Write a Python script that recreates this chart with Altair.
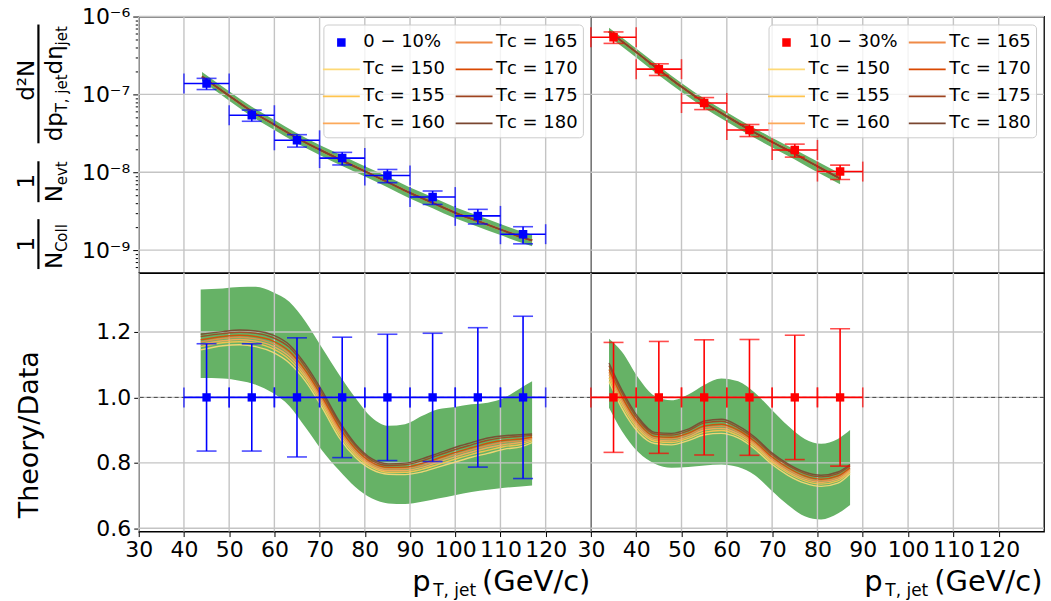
import altair as alt
import pandas as pd

FONT = "DejaVu Sans"

# ---------------- data ----------------
# 0-10 % centrality
x_L = [45, 55, 65, 75, 85, 95, 105, 115]
y_L = [1.38e-7, 5.4e-8, 2.57e-8, 1.52e-8, 9.1e-9, 4.8e-9, 2.75e-9, 1.6e-9]
relerr_L = [0.164, 0.164, 0.182, 0.184, 0.193, 0.196, 0.213, 0.248]
ratio_pts_L = [1.0, 1.0, 1.0, 1.0, 1.0, 1.0, 1.0, 1.0]

# 10-30 % centrality
x_R = [35, 45, 55, 65, 75, 85]
y_R = [5.43e-7, 2.11e-7, 7.74e-8, 3.49e-8, 1.93e-8, 1.02e-8]
relerr_R = [0.168, 0.171, 0.176, 0.177, 0.190, 0.210]
ratio_pts_R = [1.0, 1.0, 1.0, 1.0, 1.0, 1.0]

x_halfwidth = 5

# theory spectrum (top panels)
x_thL = [44, 50, 55, 60, 65, 70, 75, 80, 85, 90, 95, 100, 105, 110, 115, 117]
thL = [1.70e-7, 9.6e-8, 6.05e-8, 4.08e-8, 2.75e-8, 1.95e-8, 1.41e-8, 1.03e-8,
       7.5e-9, 5.43e-9, 4.05e-9, 3.01e-9, 2.36e-9, 1.84e-9, 1.44e-9, 1.33e-9]
bandL_hi = [1.94e-7, 1.10e-7, 6.96e-8, 4.69e-8, 3.16e-8, 2.24e-8, 1.64e-8, 1.19e-8,
            8.8e-9, 6.35e-9, 4.78e-9, 3.55e-9, 2.78e-9, 2.17e-9, 1.71e-9, 1.58e-9]
bandL_lo = [1.50e-7, 8.3e-8, 5.2e-8, 3.5e-8, 2.36e-8, 1.67e-8, 1.20e-8, 8.8e-9,
            6.4e-9, 4.6e-9, 3.45e-9, 2.56e-9, 2.0e-9, 1.56e-9, 1.22e-9, 1.12e-9]

x_thR = [34, 40, 45, 50, 55, 60, 65, 70, 75, 80, 85]
thR = [6.42e-7, 3.49e-7, 2.07e-7, 1.25e-7, 7.88e-8, 5.22e-8, 3.52e-8, 2.45e-8,
       1.72e-8, 1.19e-8, 8.3e-9]
bandR_hi = [7.2e-7, 3.9e-7, 2.32e-7, 1.4e-7, 8.85e-8, 5.9e-8, 3.98e-8, 2.78e-8,
            1.96e-8, 1.37e-8, 9.6e-9]
bandR_lo = [5.5e-7, 2.98e-7, 1.76e-7, 1.07e-7, 6.7e-8, 4.45e-8, 3.0e-8, 2.08e-8,
            1.46e-8, 1.0e-8, 7.0e-9]

# theory / data (bottom panels)
rxL = [43.7, 48.6, 52.3, 55.9, 59.6, 63.3, 66.9, 70.6, 74.3, 77.9, 81.6, 85.2,
       88.9, 92.6, 96.2, 99.9, 103.6, 107.2, 110.9, 114.5, 117.0]
rbandL_hi = [1.330, 1.333, 1.337, 1.338, 1.322, 1.292, 1.231, 1.150, 1.070, 0.999, 0.938,
             0.913, 0.918, 0.943, 0.964, 0.971, 0.979, 0.984, 0.999, 1.029, 1.049]
rbandL_lo = [1.059, 1.058, 1.051, 1.039, 1.014, 0.974, 0.908, 0.837, 0.777, 0.726, 0.691,
             0.676, 0.674, 0.681, 0.691, 0.701, 0.711, 0.718, 0.724, 0.728, 0.731]
ratioL = {
    150: [1.145, 1.158, 1.161, 1.155, 1.138, 1.105, 1.049, 0.968, 0.878, 0.817, 0.779,
          0.765, 0.764, 0.772, 0.787, 0.802, 0.817, 0.829, 0.842, 0.849, 0.862],
    155: [1.155, 1.167, 1.170, 1.165, 1.149, 1.116, 1.059, 0.978, 0.888, 0.825, 0.786,
          0.771, 0.771, 0.780, 0.795, 0.811, 0.826, 0.838, 0.850, 0.856, 0.867],
    160: [1.162, 1.173, 1.177, 1.172, 1.157, 1.125, 1.067, 0.986, 0.896, 0.831, 0.791,
          0.776, 0.776, 0.786, 0.802, 0.818, 0.833, 0.846, 0.856, 0.862, 0.871],
    165: [1.169, 1.180, 1.184, 1.179, 1.165, 1.133, 1.075, 0.994, 0.903, 0.838, 0.796,
          0.781, 0.782, 0.792, 0.808, 0.825, 0.840, 0.853, 0.863, 0.868, 0.875],
    170: [1.176, 1.186, 1.190, 1.186, 1.173, 1.141, 1.082, 1.001, 0.911, 0.844, 0.801,
          0.786, 0.787, 0.798, 0.814, 0.831, 0.846, 0.860, 0.869, 0.873, 0.879],
    175: [1.186, 1.195, 1.199, 1.196, 1.183, 1.153, 1.092, 1.011, 0.921, 0.852, 0.807,
          0.792, 0.794, 0.806, 0.823, 0.840, 0.855, 0.869, 0.877, 0.881, 0.884],
    180: [1.193, 1.201, 1.206, 1.203, 1.191, 1.161, 1.100, 1.019, 0.928, 0.858, 0.812,
          0.797, 0.799, 0.812, 0.829, 0.847, 0.862, 0.876, 0.883, 0.886, 0.888],
}

rxR = [34.0, 36.8, 40.5, 44.1, 47.8, 51.5, 55.1, 58.8, 62.5, 66.2, 69.8, 73.5,
       77.2, 80.8, 84.5, 87.2]
rbandR_hi = [1.179, 1.140, 1.059, 1.004, 0.991, 1.009, 1.039, 1.058, 1.049, 1.014, 0.964,
             0.913, 0.873, 0.858, 0.873, 0.900]
rbandR_lo = [0.968, 0.898, 0.832, 0.797, 0.785, 0.787, 0.792, 0.795, 0.787, 0.762, 0.716,
             0.671, 0.637, 0.627, 0.645, 0.671]
ratioR = {
    150: [1.049, 0.968, 0.893, 0.859, 0.855, 0.868, 0.886, 0.890, 0.876, 0.842, 0.797,
          0.762, 0.738, 0.728, 0.738, 0.767],
    155: [1.060, 0.979, 0.902, 0.866, 0.862, 0.875, 0.894, 0.899, 0.883, 0.849, 0.804,
          0.769, 0.745, 0.735, 0.745, 0.773],
    160: [1.069, 0.988, 0.909, 0.871, 0.867, 0.880, 0.901, 0.905, 0.889, 0.855, 0.809,
          0.774, 0.750, 0.740, 0.750, 0.777],
    165: [1.077, 0.996, 0.916, 0.876, 0.873, 0.886, 0.907, 0.912, 0.895, 0.860, 0.815,
          0.780, 0.755, 0.745, 0.755, 0.781],
    170: [1.085, 1.004, 0.922, 0.881, 0.878, 0.891, 0.913, 0.918, 0.900, 0.865, 0.820,
          0.785, 0.760, 0.750, 0.760, 0.785],
    175: [1.097, 1.016, 0.931, 0.888, 0.885, 0.898, 0.922, 0.927, 0.907, 0.873, 0.827,
          0.792, 0.767, 0.757, 0.767, 0.791],
    180: [1.105, 1.024, 0.938, 0.893, 0.890, 0.903, 0.928, 0.933, 0.913, 0.878, 0.832,
          0.797, 0.772, 0.762, 0.772, 0.795],
}

T_values = [150, 155, 160, 165, 170, 175, 180]
T_colors = ["#fed976", "#fec44f", "#fca95a", "#ef8a47", "#d94801", "#9e4420", "#7a4630"]
T_labels = [f"Tᴄ = {t}" for t in T_values]

label_L = "0 − 10%"
label_R = "10 − 30%"

x_ticks = [30, 40, 50, 60, 70, 80, 90, 100, 110, 120]
top_decades = [1e-9, 1e-8, 1e-7, 1e-6]
top_tick_labels = ["10⁻⁹", "10⁻⁸", "10⁻⁷", "10⁻⁶"]
bot_ticks = [0.6, 0.8, 1.0, 1.2]

# ---------------- layout constants ----------------
W_L, W_R = 453, 454
H_T, H_B = 257, 259
X_DOM = [30, 130]
Y_TOP_DOM = [5.07e-10, 1e-6]
Y_BOT_DOM = [0.59, 1.38]
GREEN = "#66b266"
GRID = "#c4c4c4"
SYM = 576  # legend symbol box 24 px
SQUARE_PATH = "M-0.28,-0.28L0.28,-0.28L0.28,0.28L-0.28,0.28Z"
LINE_PATH = "M-1.54,0L1.54,0"

minor = [m * d for d in [1e-10, 1e-9, 1e-8, 1e-7] for m in range(1, 10)]
top_vals = [v for v in minor if Y_TOP_DOM[0] <= v <= Y_TOP_DOM[1]] + [1e-6]
major_test = "indexof([1e-9, 1e-8, 1e-7, 1e-6], datum.value) >= 0"
label_expr = " : ".join(
    f"datum.value == {v!r} ? '{s}'" for v, s in zip(top_decades, top_tick_labels)
) + " : ''"

xscale = alt.Scale(domain=X_DOM, nice=False, zero=False)
yscale_top = alt.Scale(type="log", domain=Y_TOP_DOM, nice=False)
yscale_bot = alt.Scale(domain=Y_BOT_DOM, nice=False, zero=False)

x_axis_bottom = alt.Axis(values=x_ticks, title=None, grid=False, domain=False,
                         labelFont=FONT, labelFontSize=22, labelColor="black",
                         labelFlush=False, labelOverlap=False,
                         tickColor="black", tickSize=5, labelPadding=3)
y_axis_top_left = alt.Axis(values=top_vals, title=None, grid=False, domain=False,
                           labelExpr=label_expr, labelFont=FONT, labelFontSize=22,
                           labelColor="black", tickColor="black", labelPadding=3,
                           labelFlush=False, labelOverlap=False,
                           tickSize={"condition": {"test": major_test, "value": 6}, "value": 3.5})
y_axis_bot_left = alt.Axis(values=bot_ticks, format=".1f", title=None, grid=False,
                           domain=False, labelFont=FONT, labelFontSize=22,
                           labelColor="black", tickColor="black", tickSize=5, labelPadding=3)


def one_row():
    return alt.Data(values=[{"k": 0}])


def text(s, x, y, size, angle=0, align="left", baseline="alphabetic"):
    return alt.Chart(one_row()).mark_text(
        text=s, font=FONT, fontSize=size, angle=angle, align=align,
        baseline=baseline, color="black"
    ).encode(x=alt.value(x), y=alt.value(y))


def frac_bar(x, y1, y2):
    return alt.Chart(one_row()).mark_rule(color="black", strokeWidth=2.2).encode(
        x=alt.value(x), y=alt.value(y1), y2=alt.value(y2))


def make_legend():
    return alt.Legend(
        title=None, orient="top-right", offset=8, columns=2,
        labelFont=FONT, labelFontSize=18, labelColor="black", labelOffset=9,
        symbolSize=SYM, symbolStrokeWidth=1.8,
        fillColor="rgba(255,255,255,0.8)", strokeColor="#cccccc", cornerRadius=4,
        padding=5, rowPadding=5, columnPadding=6,
    )


def points_frame(xs, ys, rel, label):
    df = pd.DataFrame({"x": xs, "y": ys, "rel": rel})
    df["ylo"] = df["y"] * (1 - df["rel"])
    df["yhi"] = df["y"] * (1 + df["rel"])
    df["xlo"] = df["x"] - x_halfwidth
    df["xhi"] = df["x"] + x_halfwidth
    df["series"] = label
    return df


def grid_layers(xaxis, yscale, ygrid, yaxis):
    gx = alt.Chart(pd.DataFrame({"g": x_ticks})).mark_rule(
        color=GRID, strokeWidth=1.4).encode(x=alt.X("g:Q", scale=xscale, axis=xaxis))
    gy = alt.Chart(pd.DataFrame({"g": ygrid})).mark_rule(
        color=GRID, strokeWidth=1.4).encode(y=alt.Y("g:Q", scale=yscale, axis=yaxis))
    return [gx, gy]


def errbar_layers(df, color, xaxis, yscale, yaxis):
    X = lambda f: alt.X(f"{f}:Q", scale=xscale, axis=xaxis)
    Y = lambda f: alt.Y(f"{f}:Q", scale=yscale, axis=yaxis)
    base = alt.Chart(df)
    return [
        base.mark_rule(color=color, strokeWidth=1.6).encode(x=X("xlo"), x2="xhi:Q", y=Y("y")),
        base.mark_rule(color=color, strokeWidth=1.6).encode(x=X("x"), y=Y("ylo"), y2="yhi:Q"),
        base.mark_tick(color=color, orient="vertical", size=20, thickness=1.6).encode(x=X("xlo"), y=Y("y")),
        base.mark_tick(color=color, orient="vertical", size=20, thickness=1.6).encode(x=X("xhi"), y=Y("y")),
        base.mark_tick(color=color, orient="horizontal", size=20, thickness=1.6).encode(x=X("x"), y=Y("ylo")),
        base.mark_tick(color=color, orient="horizontal", size=20, thickness=1.6).encode(x=X("x"), y=Y("yhi")),
    ]


def top_panel(xs, ys, rel, xth, th, blo, bhi, color, label, width, left):
    yaxis = y_axis_top_left if left else None
    X = alt.X("x:Q", scale=xscale, axis=None)
    order = [label] + T_labels
    cmap = dict(zip(T_labels, T_colors))
    cmap[label] = color
    cscale = alt.Scale(domain=order, range=[cmap[o] for o in order])
    sscale = alt.Scale(domain=order, range=[SQUARE_PATH if o == label else LINE_PATH for o in order])
    leg = make_legend()

    band = alt.Chart(pd.DataFrame({"x": xth, "lo": blo, "hi": bhi})).mark_area(
        color=GREEN, interpolate="monotone").encode(
        x=X, y=alt.Y("lo:Q", scale=yscale_top, axis=yaxis), y2="hi:Q")
    layers = [band] + grid_layers(None, yscale_top, top_decades, yaxis)
    for c in T_colors:
        dft = pd.DataFrame({"x": xth, "y": th})
        layers.append(alt.Chart(dft).mark_line(color=c, strokeWidth=1.8, opacity=0.9,
                                               interpolate="monotone").encode(
            x=X, y=alt.Y("y:Q", scale=yscale_top, axis=yaxis)))
    df = points_frame(xs, ys, rel, label)
    layers += errbar_layers(df, color, None, yscale_top, yaxis)
    layers.append(alt.Chart(df).mark_point(filled=True, size=SYM, opacity=1, strokeWidth=1.8).encode(
        x=X, y=alt.Y("y:Q", scale=yscale_top, axis=yaxis),
        color=alt.Color("series:N", scale=cscale, legend=leg),
        stroke=alt.Stroke("series:N", scale=cscale, legend=leg),
        shape=alt.Shape("series:N", scale=sscale, legend=leg)))
    if left:
        # y-axis title: 1/N_Coll 1/N_evt d2N/(dp_T,jet d eta_jet)
        nb, bx, db, sb = -104.5, -100.5, -77, -72
        F, S = 23, 15
        layers += [
            text("d²N", nb, 64, F, 270, "center"),
            frac_bar(bx, 8, 127),
            text("dp", db, 125, F, 270),
            text("T, jet", sb, 96, S, 270),
            text("dη", db, 58, F, 270),
            text("jet", sb, 29, S, 270),
            text("1", nb, 165, F, 270, "center"),
            frac_bar(bx, 145, 186),
            text("N", db, 186, F, 270),
            text("evt", sb, 169, S, 270),
            text("1", nb, 228, F, 270, "center"),
            frac_bar(bx, 203, 253),
            text("N", db, 253, F, 270),
            text("Coll", sb, 236, S, 270),
        ]
    return alt.layer(*layers).properties(width=width, height=H_T)


def bottom_panel(xs, rel, ratio_pts, rx, rlo, rhi, curves, color, width, left):
    yaxis = y_axis_bot_left if left else None
    X = alt.X("x:Q", scale=xscale, axis=x_axis_bottom)
    band = alt.Chart(pd.DataFrame({"x": rx, "lo": rlo, "hi": rhi})).mark_area(
        color=GREEN, interpolate="monotone").encode(
        x=X, y=alt.Y("lo:Q", scale=yscale_bot, axis=yaxis), y2="hi:Q")
    layers = [band] + grid_layers(x_axis_bottom, yscale_bot, bot_ticks, yaxis)
    layers.append(alt.Chart(pd.DataFrame({"g": [1.0]})).mark_rule(
        color="#444444", strokeWidth=1, strokeDash=[4, 3]).encode(
        y=alt.Y("g:Q", scale=yscale_bot, axis=yaxis)))
    for t, c in zip(T_values, T_colors):
        dft = pd.DataFrame({"x": rx, "y": curves[t]})
        layers.append(alt.Chart(dft).mark_line(color=c, strokeWidth=1.4, opacity=0.9,
                                               interpolate="monotone").encode(
            x=X, y=alt.Y("y:Q", scale=yscale_bot, axis=yaxis)))
    df = points_frame(xs, ratio_pts, rel, "")
    layers += errbar_layers(df, color, x_axis_bottom, yscale_bot, yaxis)
    layers.append(alt.Chart(df).mark_square(size=70, opacity=1, color=color).encode(
        x=X, y=alt.Y("y:Q", scale=yscale_bot, axis=yaxis)))
    # x title p_T,jet (GeV/c)
    layers += [
        text("p", 274, 319, 29),
        text("T, jet", 295, 324, 17),
        text("(GeV/c)", 344, 319, 29),
    ]
    if left:
        layers.append(text("Theory/Data", -100.5, 162, 27, 270, "center"))
    return alt.layer(*layers).properties(width=width, height=H_B)


tl = top_panel(x_L, y_L, relerr_L, x_thL, thL, bandL_lo, bandL_hi, "#0000ff", label_L, W_L, True)
tr = top_panel(x_R, y_R, relerr_R, x_thR, thR, bandR_lo, bandR_hi, "#ff0000", label_R, W_R, False)
bl = bottom_panel(x_L, relerr_L, ratio_pts_L, rxL, rbandL_lo, rbandL_hi, ratioL, "#0000ff", W_L, True)
br = bottom_panel(x_R, relerr_R, ratio_pts_R, rxR, rbandR_lo, rbandR_hi, ratioR, "#ff0000", W_R, False)

chart = alt.concat(tl, tr, bl, br, columns=2, spacing=0, bounds="flush").resolve_scale(
    color="independent", stroke="independent", shape="independent"
).resolve_legend(color="independent", stroke="independent", shape="independent").properties(
    padding={"left": 15, "top": 4, "right": 5, "bottom": 0}
).configure(background="white").configure_view(stroke="black", strokeWidth=1.3)

chart.save("out.html", embed_options={"renderer": "svg", "actions": False})
